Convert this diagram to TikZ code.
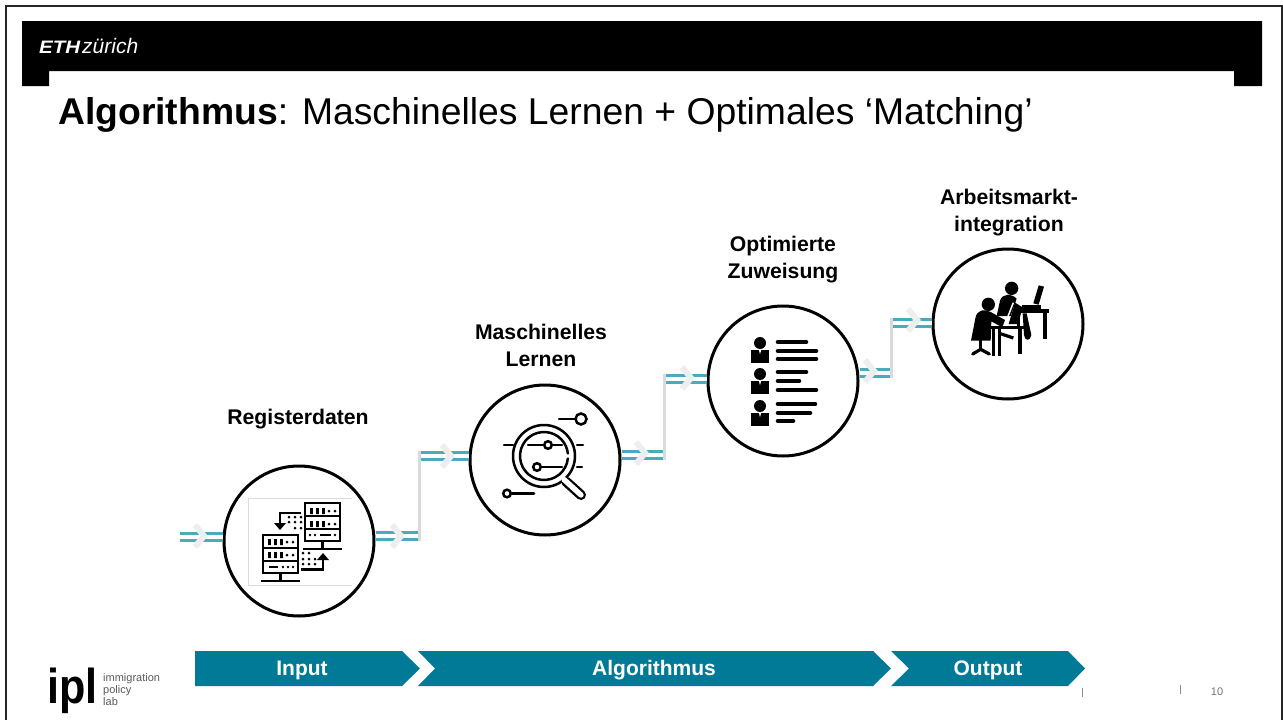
\documentclass[tikz,border=0pt]{standalone}
\usepackage{fontspec}
\setmainfont{Liberation Sans}
\usetikzlibrary{calc,positioning}
\definecolor{wirecol}{RGB}{76,170,190}
\definecolor{stagecol}{RGB}{0,122,150}
\definecolor{risercol}{RGB}{218,218,218}
\definecolor{chevcol}{RGB}{238,238,238}
\tikzstyle{stage} = [circle, draw=black, line width=3pt, fill=white, minimum size=150pt, inner sep=0pt]
\tikzstyle{caption} = [align=center, font=\fontsize{21.2}{27}\selectfont\bfseries]
\tikzstyle{wire} = [draw=wirecol, double=white, line width=2.5pt, double distance=4.6pt]
\tikzstyle{riser} = [draw=risercol, line width=3pt]
\tikzstyle{chev} = [draw=chevcol, line width=6pt, miter limit=10]
\tikzstyle{band} = [text=white, text height=15pt, text depth=4pt, font=\fontsize{21}{24}\selectfont\bfseries]
\tikzstyle{ink} = [draw=black, line width=2.5pt, line cap=round]
\tikzstyle{bar} = [draw=black, line width=4.6pt, line cap=round]
\newcommand{\chevat}[1]{\draw[chev] ($(#1)+(-5,-11)$) -- ($(#1)+(4,0)$) -- ($(#1)+(-5,11)$);}
\newcommand{\rackat}[4]{%
  \begin{scope}[shift={(#1,#2)}]
    \draw[black, line width=2.2pt] (0,0) rectangle (35,38);
    \draw[black, line width=2.2pt] (0,13) -- (35,13) (0,26) -- (35,26);
    \draw[black, line width=2.2pt] (17.5,38) -- (17.5,45);
    \draw[black, line width=2.6pt] (-2,46) -- (37,46);
    \foreach \row in {#3} {
      \fill[black] (5,\row) rectangle ++(2.8,6) (11,\row) rectangle ++(2.8,6) (17,\row) rectangle ++(2.8,6);
      \fill[black] (24,\row+3) circle (1.5) (30,\row+3) circle (1.5);
    }
    #4
  \end{scope}}
\begin{document}
\begin{tikzpicture}[x=1pt, y=-1pt, >=stealth]
  \useasboundingbox (0,0) rectangle (1283,720);
  % page frame and header
  \draw[black!85, line width=2pt] (5.5,720) -- (5.5,5.5) -- (1281.5,5.5) -- (1281.5,720);
  \fill[black] (22,21) -- (1262,21) -- (1262,86) -- (1234,86) -- (1234,71) -- (49,71) -- (49,86) -- (22,86) -- cycle;
  \node[anchor=base west, text=white, inner sep=0pt, font=\fontsize{21}{24}\selectfont\itshape] (eth) at (39,53)
    {\scalebox{1.14}[1]{\fontsize{18}{24}\selectfont\textbf{ETH}}\hspace{2pt}zürich};
  \node[anchor=base west, inner sep=0pt, font=\fontsize{37.3}{40}\selectfont] (title) at (58,124)
    {\textbf{Algorithmus}: Maschinelles Lernen + Optimales ‘Matching’};

  % stages
  \node[stage] (reg) at (299,541) {};
  \node[stage] (ml)  at (545,460) {};
  \node[stage] (opt) at (783,381) {};
  \node[stage] (arb) at (1008,324) {};

  \node[caption] (regcap) at (298,419) {Registerdaten};
  \node[caption] (mlcap)  at (541,345) {Maschinelles\\Lernen};
  \node[caption] (optcap) at (783,260) {Optimierte\\Zuweisung};
  \node[caption] (arbcap) at (1009,213) {Arbeitsmarkt-\\integration};

  % connectors
  \coordinate (in)   at (180,537);
  \coordinate (low1) at (419,536);
  \coordinate (up1)  at (419,456);
  \coordinate (low2) at (664,455);
  \coordinate (up2)  at (664,379);
  \coordinate (low3) at (891,373);
  \coordinate (up3)  at (891,323);

  \draw[wire] (in) -- (in -| reg.west);
  \draw[wire] (low1 -| reg.east) -- (low1);
  \draw[wire] (up1) -- (up1 -| ml.west);
  \draw[wire] (low2 -| ml.east) -- (low2);
  \draw[wire] (up2) -- (up2 -| opt.west);
  \draw[wire] (low3 -| opt.east) -- (low3);
  \draw[wire] (up3) -- (up3 -| arb.west);

  \draw[riser] ($(low1)+(0,5)$) -- ($(up1)+(0,-5)$);
  \draw[riser] ($(low2)+(0,5)$) -- ($(up2)+(0,-5)$);
  \draw[riser] ($(low3)+(0,5)$) -- ($(up3)+(0,-5)$);

  \foreach \pos in {{200,536},{397,536},{447,456},{641,453},{687,378},{870,371},{913,320}} {
    \edef\tmp{\noexpand\chevat{\pos}}\tmp
  }

  % icon: data
  \draw[risercol, line width=1pt] (352,498) -- (248,498) -- (248,585) -- (352,585);
  \rackat{305}{503}{5,18}{\fill[black] (5,32) circle (1.4) (10,32) circle (1.4) (30,32) circle (1.4);\draw[black, line width=2.2pt] (15,32) -- (26,32);}
  \rackat{263}{535}{4,17}{\draw[black, line width=2.2pt] (6,32) -- (15,32);\fill[black] (20,32) circle (1.4) (25,32) circle (1.4) (30,32) circle (1.4);}
  \draw[black, line width=2.2pt] (301,513) -- (280,513) -- (280,525);
  \fill[black] (274,523) -- (286,523) -- (280,530) -- cycle;
  \draw[black, line width=2.2pt] (301,569.5) -- (323,569.5) -- (323,558);
  \fill[black] (317,560) -- (329,560) -- (323,553) -- cycle;
  \foreach \xa/\ya in {289/517, 295/517, 301/517, 289/522, 295/522, 301/522, 295/528, 301/528,
                       303/553, 309/553, 303/559, 309/559, 315/559, 303/564, 309/564, 315/564}
    \fill[black] (\xa,\ya) circle (1.5);

  % icon: magnifier
  \draw[ink] (544,456) circle (31);
  \draw[ink] (544,456) ++(6:24) arc (6:354:24);
  \draw[draw=black, line width=10pt, line cap=round] (566,481.5) -- (581,495);
  \draw[draw=white, line width=5.4pt, line cap=round] (564,479.5) -- (581,495);
  \draw[ink] (559,419) -- (576,419);
  \draw[ink] (581,419) circle (5.5);
  \draw[ink] (504,445) -- (513,445) (528,445) -- (543,445) (553,445) -- (562,445) (577,445) -- (583,445);
  \draw[ink, fill=white] (548,445) circle (3.8);
  \draw[ink] (542,467) -- (562,467) (577,467) -- (582,467);
  \draw[ink, fill=white] (537,467) circle (3.8);
  \draw[ink] (512,493.5) -- (534,493.5);
  \draw[ink, fill=white] (507,493.5) circle (3.8);

  % icon: assignment list
  \foreach \yb in {343, 374, 406} {
    \fill[black] (760,\yb) circle (6);
    \fill[black] (751,\yb+7) rectangle (769,\yb+20);
    \fill[white] (758.8,\yb+7) -- (761.2,\yb+7) -- (760,\yb+11) -- cycle;
  }
  \foreach \xe/\yc in {808/342, 818/351, 818/359, 808/372, 801/381, 818/390, 817/404, 812/413, 795/421}
    \draw[bar] (778,\yc) -- (\xe-2,\yc);

  % icon: people at desk
  \begin{scope}[shift={(960,270)}, scale=1/3]
    \fill[black] (85,103) circle (20);
    \fill[black] (155,55) circle (20);
    \fill[black] (33,212) -- (46,145) .. controls (50,118) and (75,116) .. (92,126) -- (135,150) -- (127,172) -- (94,154) -- (92,212) -- cycle;
    \draw[black, line width=3.6pt] (62,205) -- (62,240);
    \draw[black, line width=3.2pt, line cap=round] (38,252) -- (62,238) -- (88,252);
    \fill[black] (110,138) -- (120,92) .. controls (126,70) and (155,70) .. (170,86) -- (152,138) -- cycle;
    \draw[white, line width=1.5pt] (160,98) -- (135,162);
    \fill[black] (165,98) -- (188,112) -- (174,162) -- (146,162) -- cycle;
    \draw[black, line width=3.4pt] (92,172) -- (197,172);
    \draw[black, line width=3.6pt] (100,172) -- (100,257) (118,172) -- (118,257) (180,172) -- (180,252);
    \draw[black, line width=3.2pt] (118,190) -- (160,204);
    \draw[black, line width=3.4pt] (175,123) -- (267,123);
    \draw[black, line width=3.2pt] (255,123) -- (255,207) (175,123) -- (175,170);
    \fill[black] (188,130) -- (200,130) -- (214,195) .. controls (211,214) and (194,214) .. (192,195) -- cycle;
    \fill[black] (236,46) -- (252,50) -- (236,104) -- (220,100) -- cycle;
    \fill[black] (185,104) rectangle (242,120);
  \end{scope}

  % stage bands
  \fill[stagecol] (195,651) -- (402,651) -- (420,668.5) -- (402,686) -- (195,686) -- cycle;
  \fill[stagecol] (418,651) -- (873,651) -- (891,668.5) -- (873,686) -- (418,686) -- (435,668.5) -- cycle;
  \fill[stagecol] (891,651) -- (1068,651) -- (1085,668.5) -- (1068,686) -- (891,686) -- (909,668.5) -- cycle;
  \node[band] (inp) at (302,669.5) {Input};
  \node[band] (alg) at (654,669.5) {Algorithmus};
  \node[band] (out) at (988,669.5) {Output};

  % footer
  \node[anchor=base west, inner sep=0pt, font=\fontsize{49}{49}\selectfont\bfseries] (ipl) at (47,703) {\scalebox{.88}[1]{ipl}};
  \node[anchor=north west, inner sep=0pt, align=left, text=black!65, font=\fontsize{11}{12}\selectfont] (ipltext) at (103,673.5) {immigration\\policy\\lab};
  \draw[black!45, line width=.8pt] (1082.5,688) -- (1082.5,697) (1180.5,685) -- (1180.5,694);
  \node[text=black!55, font=\fontsize{11}{12}\selectfont] (page) at (1217,692) {10};
\end{tikzpicture}
\end{document}
